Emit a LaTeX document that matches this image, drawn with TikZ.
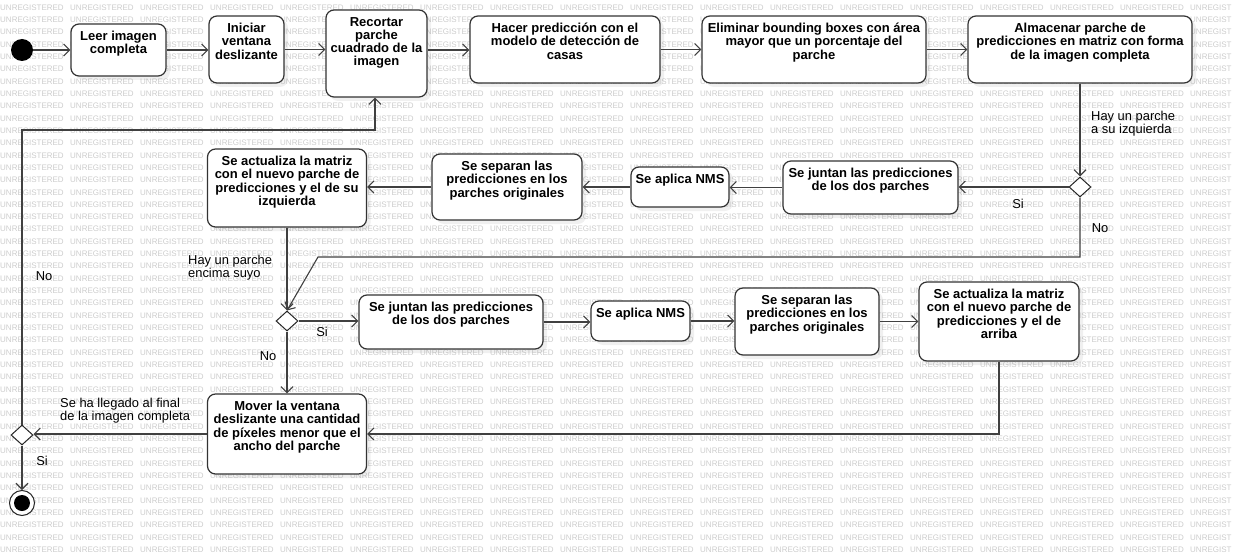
\documentclass[tikz,border=0pt]{standalone}
\usepackage{fontspec}
\setmainfont{Liberation Sans}
\usetikzlibrary{arrows.meta,shapes.geometric,shadows}

\begin{document}
\begin{tikzpicture}[x=1pt,y=-1pt,
    act/.style={draw=black!80,line width=1.2pt,rounded corners=8pt,fill=white,
      drop shadow={shadow xshift=4pt,shadow yshift=-4pt,opacity=0.12}},
    acttext/.style={anchor=north,align=center,font=\fontsize{13}{13.3}\selectfont\bfseries},
    lbl/.style={align=left,font=\fontsize{12.9}{13}\selectfont},
    choice/.style={diamond,draw=black!85,line width=1pt,fill=white,minimum width=22pt,minimum height=20pt},
    flow/.style={draw=black!75,line width=1.1pt,-{Straight Barb[length=6pt,width=12pt]}},
    wm/.style={anchor=west,text=black!20,font=\fontsize{8}{8}\selectfont}]
                \tikzstyle{every node}+=[inner sep=0pt]
                \useasboundingbox (0,0) rectangle (1233,556);
                \foreach \r in {0,...,44}{
                  \foreach \c in {0,...,16}
                    \node [wm] (wm-\r-\c) at (70*\c,7.3+12.33*\r) {UNREGISTERED};
                  \node [wm] (wm-\r-17) at (1190,7.3+12.33*\r) {UNREGIST};
                }
                % top row
                \node [circle,fill=black,minimum size=22pt] (start) at (22,50) {};
                \node [act,minimum width=95pt,minimum height=52pt] (b1) at (118.5,50) {};
                \node [acttext] (b1t) at ([yshift=-7.5pt]b1.north) {Leer imagen\\completa};
                \node [act,minimum width=75pt,minimum height=67pt] (b2) at (246.5,49.5) {};
                \node [acttext] (b2t) at ([yshift=-7.5pt]b2.north) {Iniciar\\ventana\\deslizante};
                \node [act,minimum width=101pt,minimum height=87pt] (b3) at (376.5,53.5) {};
                \node [acttext] (b3t) at ([yshift=-7.5pt]b3.north) {Recortar\\parche\\cuadrado de la\\imagen};
                \node [act,minimum width=190pt,minimum height=67pt] (b4) at (565,49.5) {};
                \node [acttext] (b4t) at ([yshift=-7.5pt]b4.north) {Hacer predicción con el\\modelo de detección de\\casas};
                \node [act,minimum width=224pt,minimum height=67pt] (b5) at (814,49.5) {};
                \node [acttext] (b5t) at ([yshift=-7.5pt]b5.north) {Eliminar bounding boxes con área\\mayor que un porcentaje del\\parche};
                \node [act,minimum width=224pt,minimum height=67pt] (b6) at (1080,49.5) {};
                \node [acttext] (b6t) at ([yshift=-7.5pt]b6.north) {Almacenar parche de\\predicciones en matriz con forma\\de la imagen completa};
                % left neighbour
                \node [choice] (d1) at (1080,187) {};
                \node [act,minimum width=175pt,minimum height=53pt] (m1) at (870.5,187.5) {};
                \node [acttext] (m1t) at ([yshift=-7.5pt]m1.north) {Se juntan las predicciones\\de los dos parches};
                \node [act,minimum width=98pt,minimum height=40pt] (m2) at (680,187) {};
                \node [acttext] (m2t) at ([yshift=-7.5pt]m2.north) {Se aplica NMS};
                \node [act,minimum width=150pt,minimum height=66pt] (m3) at (507,187) {};
                \node [acttext] (m3t) at ([yshift=-7.5pt]m3.north) {Se separan las\\predicciones en los\\parches originales};
                \node [act,minimum width=159pt,minimum height=78pt] (m4) at (287,188) {};
                \node [acttext] (m4t) at ([yshift=-7.5pt]m4.north) {Se actualiza la matriz\\con el nuevo parche de\\predicciones y el de su\\izquierda};
                % upper neighbour
                \node [choice] (d2) at (287,321) {};
                \node [act,minimum width=184pt,minimum height=54pt] (n1) at (451,322) {};
                \node [acttext] (n1t) at ([yshift=-7.5pt]n1.north) {Se juntan las predicciones\\de los dos parches};
                \node [act,minimum width=99pt,minimum height=40pt] (n2) at (640.5,321) {};
                \node [acttext] (n2t) at ([yshift=-7.5pt]n2.north) {Se aplica NMS};
                \node [act,minimum width=144pt,minimum height=67pt] (n3) at (807,321.5) {};
                \node [acttext] (n3t) at ([yshift=-7.5pt]n3.north) {Se separan las\\predicciones en los\\parches originales};
                \node [act,minimum width=160pt,minimum height=79pt] (n4) at (999,321.5) {};
                \node [acttext] (n4t) at ([yshift=-7.5pt]n4.north) {Se actualiza la matriz\\con el nuevo parche de\\predicciones y el de\\arriba};
                % move and finish
                \node [act,minimum width=159pt,minimum height=80pt] (mv) at (287,434) {};
                \node [acttext] (mvt) at ([yshift=-7.5pt]mv.north) {Mover la ventana\\deslizante una cantidad\\de píxeles menor que el\\ancho del parche};
                \node [choice] (d3) at (22,435) {};
                \node [circle,draw=black!85,line width=1pt,fill=white,minimum size=25pt] (stop) at (22,503) {};
                \node [circle,fill=black,minimum size=16pt] (stopdot) at (stop) {};
                \coordinate (c1) at (1080,257);
                \coordinate (c2) at (318,257);
                \coordinate (c3) at (n4.south |- mv.east);
                \coordinate (c4) at (22,130);
                \coordinate (c5) at (375,130);
                \draw [flow] (start) -- (b1);
                \draw [flow] (b1.east) -- (b1.east -| b2.west);
                \draw [flow] (b2.east) -- (b2.east -| b3.west);
                \draw [flow] ([yshift=3.5pt]b3.east) -- ([yshift=3.5pt]b3.east -| b4.west);
                \draw [flow] (b4.east) -- (b4.east -| b5.west);
                \draw [flow] (b5.east) -- (b5.east -| b6.west);
                \draw [flow] (b6.south) -- (d1.north);
                \draw [flow] (d1.west) -- (d1.west -| m1.east);
                \draw [flow] (m1.west) -- (m1.west -| m2.east);
                \draw [flow] (m2.west) -- (m2.west -| m3.east);
                \draw [flow] (m3.west) -- (m3.west -| m4.east);
                \draw [flow] (m4.south) -- (d2.north);
                \draw [flow] (d1.south) -- (c1) -- (c2) -- (d2.north);
                \draw [flow] (d2.east) -- (d2.east -| n1.west);
                \draw [flow] (n1.west -| n1.east) -- (n1.west -| n2.west);
                \draw [flow] (n2.east) -- (n2.east -| n3.west);
                \draw [flow] (n3.east) -- (n3.east -| n4.west);
                \draw [flow] (n4.south) -- (c3) -- (mv.east);
                \draw [flow] (d2.south) -- (mv.north);
                \draw [flow] (mv.west) -- (mv.west -| d3.east);
                \draw [flow] (d3.south) -- (stop.north);
                \draw [flow] (d3.north) -- (c4) -- (c5) -- (c5 |- b3.south);
                \node [lbl,anchor=west] (l1) at (1091,123.5) {Hay un parche\\a su izquierda};
                \node [lbl] (l2) at (1018,204) {Si};
                \node [lbl] (l3) at (1100,228) {No};
                \node [lbl,anchor=west] (l4) at (188,267.5) {Hay un parche\\encima suyo};
                \node [lbl] (l5) at (322,332) {Si};
                \node [lbl] (l6) at (268,356) {No};
                \node [lbl,anchor=west] (l7) at (60,411) {Se ha llegado al final\\de la imagen completa};
                \node [lbl] (l8) at (42,461) {Si};
                \node [lbl] (l9) at (44,276) {No};
            \end{tikzpicture}
\end{document}
